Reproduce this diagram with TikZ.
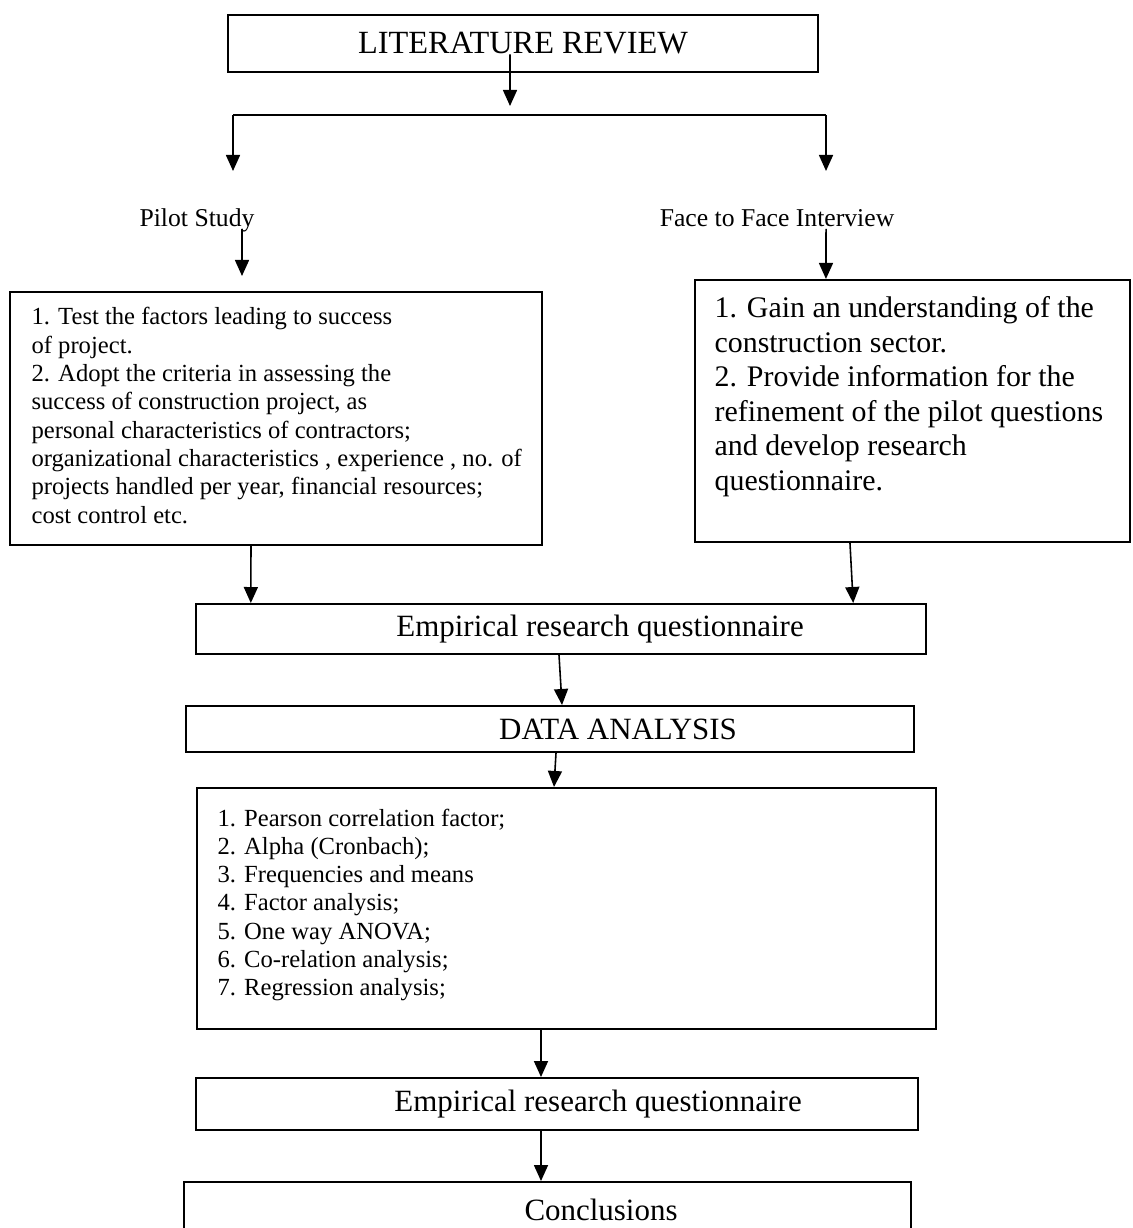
\documentclass[tikz,border=0pt]{standalone}
\usepackage{fontspec}
\setmainfont{Liberation Serif}
\usetikzlibrary{arrows.meta}
\begin{document}
\begin{tikzpicture}[x=0.01cm,y=-0.01cm,
  box/.style={draw,line width=0.55pt,inner sep=0pt},
  arr/.style={line width=0.45pt,-{Triangle[length=0.16cm,width=0.14cm]}},
  headtxt/.style={font=\fontsize{8.8}{10}\selectfont},
  smalltxt/.style={font=\fontsize{7}{8.05}\selectfont,align=left,inner sep=0pt,anchor=north west}]
  \useasboundingbox (0,0) rectangle (1132,1228);
  \clip (0,0) rectangle (1132,1228);
  % top of the chart
  \node[box,minimum width=5.90cm,minimum height=0.57cm,font=\fontsize{9.2}{10}\selectfont] (lit) at (523,43.5) {LITERATURE REVIEW};
  \coordinate (fork) at (510,106);
  \coordinate (barL) at (233,115);
  \coordinate (barR) at (826,115);
  \coordinate (tipL) at (233,171);
  \coordinate (tipR) at (826,171);
  \draw[arr] ([xshift=-0.13cm,yshift=-0.11cm]lit.center) -- (fork);
  \draw[line width=0.45pt] (barL) -- (barR);
  \draw[arr] (barL) -- (tipL);
  \draw[arr] (barR) -- (tipR);
  % the two branches
  \node[font=\fontsize{7.3}{9}\selectfont,anchor=base,inner sep=0pt] (pilotlbl) at (197,227) {Pilot Study};
  \node[font=\fontsize{7.3}{9}\selectfont,anchor=base,inner sep=0pt] (facelbl) at (777,227) {Face to Face Interview};
  \coordinate (pilotin) at (242,276);
  \node[box,minimum width=5.32cm,minimum height=2.53cm] (pilotbox) at (276,418.5) {};
  \node[smalltxt] (pilottxt) at ([shift={(22,16)}]pilotbox.north west) {1. Test the factors leading to success\\
of project.\\
2. Adopt the criteria in assessing the\\
success of construction project, as\\
personal characteristics of contractors;\\
organizational characteristics , experience , no. of\\
projects handled per year, financial resources;\\
cost control etc.};
  \node[box,minimum width=4.35cm,minimum height=2.62cm] (facebox) at (912.5,411) {};
  \node[smalltxt,font=\fontsize{8.5}{9.8}\selectfont] (facetxt) at ([shift={(20,17)}]facebox.north west) {1. Gain an understanding of the\\
construction sector.\\
2. Provide information for the\\
refinement of the pilot questions\\
and develop research\\
questionnaire.};
  \draw[arr] ([xshift=0.45cm,yshift=-0.02cm]pilotlbl.base) -- (pilotin);
  \draw[arr] ([xshift=0.49cm,yshift=-0.02cm]facelbl.base) -- ([xshift=-0.865cm]facebox.north);
  % main column
  \node[box,headtxt,minimum width=7.30cm,minimum height=0.50cm] (empa) at (561,629) {\hspace*{0.78cm}Empirical research questionnaire};
  \node[box,headtxt,minimum width=7.28cm,minimum height=0.46cm] (data) at (550,729) {\hspace*{1.36cm}DATA ANALYSIS};
  \node[box,minimum width=7.39cm,minimum height=2.41cm] (methods) at (566.5,908.5) {};
  \node[smalltxt] (methtxt) at ([shift={(21,21)}]methods.north west) {1. Pearson correlation factor;\\
2. Alpha (Cronbach);\\
3. Frequencies and means\\
4. Factor analysis;\\
5. One way ANOVA;\\
6. Co-relation analysis;\\
7. Regression analysis;};
  \node[box,headtxt,minimum width=7.22cm,minimum height=0.52cm] (empb) at (557,1104) {\hspace*{0.82cm}Empirical research questionnaire};
  \node[box,headtxt,minimum width=7.27cm,minimum height=0.55cm] (concl) at (547.5,1209.5) {\hspace*{1.07cm}Conclusions};
  \draw[arr] ([xshift=-0.25cm]pilotbox.south) -- ([xshift=-3.10cm]empa.north);
  \draw[arr] ([xshift=-0.625cm]facebox.south) -- ([xshift=2.92cm]empa.north);
  \draw[arr] ([xshift=-0.02cm]empa.south) -- ([xshift=0.12cm]data.north);
  \draw[arr] ([xshift=0.06cm]data.south) -- ([xshift=-0.125cm]methods.north);
  \draw[arr] ([xshift=-0.255cm]methods.south) -- ([xshift=-0.16cm]empb.north);
  \draw[arr] ([xshift=-0.16cm]empb.south) -- ([xshift=-0.065cm]concl.north);
\end{tikzpicture}
\end{document}
